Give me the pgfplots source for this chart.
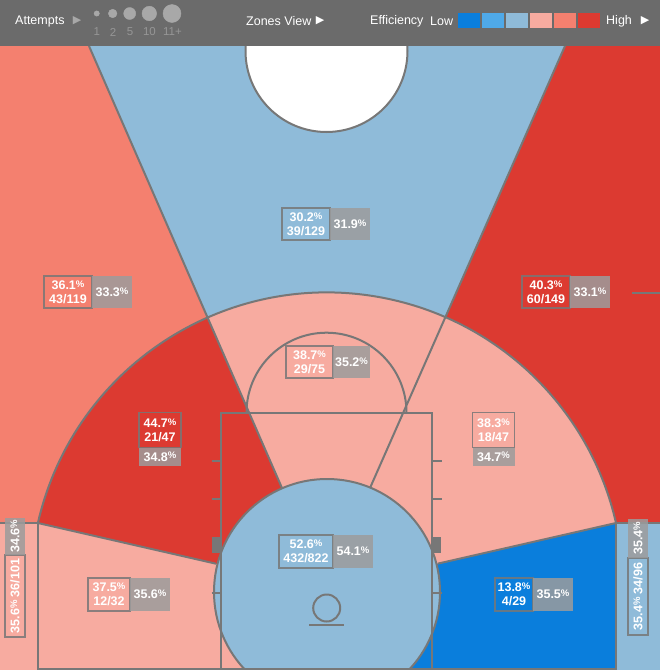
\documentclass[border=0pt]{standalone}
\usepackage{pgfplots}
\pgfplotsset{compat=1.18}
\usepackage{fontspec}
\setmainfont{Liberation Sans}
\newfontfamily\sym{DejaVu Sans}
\definecolor{cBlue}{HTML}{0A7EDC}
\definecolor{cMidBlue}{HTML}{4FA9E8}
\definecolor{cLtBlue}{HTML}{8FBBD9}
\definecolor{cLtRed}{HTML}{F7ABA0}
\definecolor{cSalmon}{HTML}{F4806F}
\definecolor{cRed}{HTML}{DC3A31}
\definecolor{cLine}{HTML}{777777}
\definecolor{cBar}{HTML}{6B6B6B}
\definecolor{cDot}{HTML}{A8A8A8}
\definecolor{cNum}{HTML}{969696}
\definecolor{cGray}{HTML}{9C9C9C}
\newcommand{\pc}[1]{#1{\fontsize{9.5}{9.5}\selectfont\raisebox{2.3pt}{\%}}}
\tikzset{
  statbox/.style={draw=cLine,draw opacity=0.85,line width=1.3pt,inner sep=0pt,align=center,text=white,
    font=\bfseries\fontsize{12.5}{14}\selectfont},
  graybox/.style={fill=cGray,fill opacity=0.85,text opacity=1,inner sep=0pt,text=white,
    font=\bfseries\fontsize{12.5}{14}\selectfont},
  bartext/.style={anchor=west,text=white,font=\fontsize{12.5}{12.5}\selectfont,inner sep=0pt},
  tri/.style={font=\sym\fontsize{11}{11}\selectfont,inner sep=0pt}}
\begin{document}
\begin{tikzpicture}
\begin{axis}[x=1pt,y=1pt,xmin=0,xmax=660,ymin=0,ymax=670,y dir=reverse,
  axis lines=none,ticks=none,enlargelimits=false,scale only axis]
% ---- three point zones
\fill[cSalmon] (0,46) -- (89,46) -- (326,589) -- (37.9,523) -- (0,523) -- cycle;
\fill[cLtBlue] (89,46) -- (565,46) -- (326,589) -- cycle;
\fill[cRed] (565,46) -- (660,46) -- (660,523) -- (616,523) -- (326,589) -- cycle;
\fill[cLtRed] (0,523) rectangle (37.9,670);
\fill[cLtBlue] (616,523) rectangle (660,670);
% ---- inside the arc
\begin{scope}
\clip (37.9,670) -- (37.9,523) arc[start angle=167.15,end angle=12.85,radius=296.5pt] -- (616,670) -- cycle;
\fill[cLtRed] (326,589) -- (89,46) -- (565,46) -- cycle;
\fill[cRed] (326,589) -- (89,46) -- (0,46) -- (0,514.3) -- cycle;
\fill[cLtRed] (326,589) -- (0,514.3) -- (0,670) -- (326,670) -- cycle;
\fill[cLtRed] (326,589) -- (565,46) -- (660,46) -- (660,513) -- cycle;
\fill[cBlue] (326,589) -- (660,513) -- (660,670) -- (326,670) -- cycle;
\end{scope}
\fill[cLtBlue] (327,592) circle[radius=113pt];
% ---- lines
\begin{scope}[draw=cLine,line width=2pt]
\draw (89,46) -- (282,488);
\draw (565,46) -- (370,488);
\draw (37.9,523) -- (216,563.7);
\draw (616,523) -- (438,563.6);
\draw (0,523) -- (37.9,523);
\draw (616,523) -- (660,523);
\draw (37.9,523) -- (37.9,670);
\draw (616,523) -- (616,670);
\draw (37.9,523) arc[start angle=167.15,end angle=12.85,radius=296.5pt];
\draw (327,592) circle[radius=113pt];
\draw (220.7,668) -- (220.7,412.7) -- (432.3,412.7) -- (432.3,668);
\draw (246.5,412.7) arc[start angle=180,end angle=0,radius=80pt];
\draw (37.9,668.5) -- (616,668.5);
\draw (211.7,461) -- (220.7,461);
\draw (211.7,499) -- (220.7,499);
\draw (211.7,593) -- (220.7,593);
\draw (432.3,461) -- (441.7,461);
\draw (432.3,499) -- (441.7,499);
\draw (432.3,593) -- (441.7,593);
\draw (326.7,608) circle[radius=13.5pt];
\draw (309,625) -- (344,625);
\draw (632,293) -- (660,293);
\draw[fill=white] (326.5,51) circle[radius=81pt];
\end{scope}
\fill[cLine] (212,537) rectangle (220.7,553);
\fill[cLine] (432.3,537) rectangle (441,553);
% ---- labels
\node[statbox,minimum width=48pt,minimum height=32pt] at (306,224) {\pc{30.2}\\39/129};
\node[graybox,minimum width=40pt,minimum height=32pt] at (350,224) {\pc{31.9}};
\node[statbox,minimum width=48pt,minimum height=32pt] at (68,292) {\pc{36.1}\\43/119};
\node[graybox,minimum width=40pt,minimum height=32pt] at (112,292) {\pc{33.3}};
\node[statbox,minimum width=48pt,minimum height=32pt] at (546,292) {\pc{40.3}\\60/149};
\node[graybox,minimum width=40pt,minimum height=32pt] at (590,292) {\pc{33.1}};
\node[statbox,minimum width=47pt,minimum height=32pt] at (309.5,362) {\pc{38.7}\\29/75};
\node[graybox,minimum width=37pt,minimum height=32pt] at (351.5,362) {\pc{35.2}};
\node[statbox,minimum width=42pt,minimum height=35pt] at (160,430) {\pc{44.7}\\21/47};
\node[graybox,minimum width=42pt,minimum height=18pt] at (160,456.7) {\pc{34.8}};
\node[statbox,minimum width=42pt,minimum height=35pt] at (493.5,430) {\pc{38.3}\\18/47};
\node[graybox,minimum width=42pt,minimum height=18pt] at (493.5,456.7) {\pc{34.7}};
\node[statbox,minimum width=54pt,minimum height=33pt] at (306,551.5) {\pc{52.6}\\432/822};
\node[graybox,minimum width=40pt,minimum height=33pt] at (353,551.5) {\pc{54.1}};
\node[statbox,minimum width=42pt,minimum height=33pt] at (109,594.5) {\pc{37.5}\\12/32};
\node[graybox,minimum width=40pt,minimum height=33pt] at (150,594.5) {\pc{35.6}};
\node[statbox,minimum width=38pt,minimum height=33pt] at (514,594.5) {\pc{13.8}\\4/29};
\node[graybox,minimum width=40pt,minimum height=33pt] at (553,594.5) {\pc{35.5}};
\node[statbox,rotate=90,minimum width=82pt,minimum height=20pt] at (15,596) {\pc{35.6} 36/101};
\node[graybox,rotate=90,minimum width=37pt,minimum height=20pt] at (15,536.5) {\pc{34.6}};
\node[statbox,rotate=90,minimum width=77pt,minimum height=20pt] at (638,596.5) {\pc{35.4} 34/96};
\node[graybox,rotate=90,minimum width=39pt,minimum height=20pt] at (638,538.5) {\pc{35.4}};
% ---- top bar
\fill[cBar] (0,0) rectangle (660,46);
\node[bartext] at (15,21) {Attempts};
\node[tri,text=cDot] at (77,21) {▶};
\addplot[only marks,mark=*,mark size=2.7pt,color=cDot] coordinates {(96.7,13.5)};
\addplot[only marks,mark=*,mark size=4.3pt,color=cDot] coordinates {(112.7,13.5)};
\addplot[only marks,mark=*,mark size=6pt,color=cDot] coordinates {(129.7,13.5)};
\addplot[only marks,mark=*,mark size=7.3pt,color=cDot] coordinates {(149.3,13.5)};
\addplot[only marks,mark=*,mark size=9pt,color=cDot] coordinates {(172,13.5)};
\begin{scope}[every node/.style={text=cNum,font=\fontsize{11.5}{11.5}\selectfont,inner sep=0pt}]
\node at (96.7,32) {1};
\node at (113,32) {2};
\node at (130,32) {5};
\node at (149.5,32) {10};
\node at (172.5,32) {11+};
\end{scope}
\node[bartext] at (246,21) {Zones View};
\node[tri,text=white] at (320,21) {▶};
\node[bartext] at (370,21) {Efficiency};
\node[bartext] at (430,21) {Low};
\fill[cBlue] (458,13) rectangle (480,28);
\fill[cMidBlue] (482,13) rectangle (504,28);
\fill[cLtBlue] (506,13) rectangle (528,28);
\fill[cLtRed] (530,13) rectangle (552,28);
\fill[cSalmon] (554,13) rectangle (576,28);
\fill[cRed] (578,13) rectangle (600,28);
\node[bartext] at (606,21) {High};
\node[tri,text=white] at (645,21) {▶};
\end{axis}
\end{tikzpicture}
\end{document}
